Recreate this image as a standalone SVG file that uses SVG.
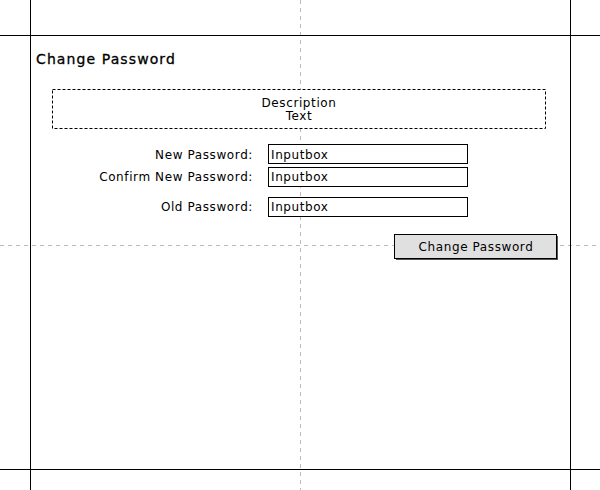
<svg xmlns="http://www.w3.org/2000/svg" width="600" height="490" viewBox="0 0 600 490">
<style>
text{font-family:"DejaVu Sans","Liberation Sans",sans-serif;font-size:12px;fill:#000;letter-spacing:0.6px}
.guide{stroke:#bbb;stroke-width:1;stroke-dasharray:4,4;fill:none}
.frame{stroke:#000;stroke-width:1;fill:none}
.input{fill:#fff;stroke:#000;stroke-width:1}
.lbl{text-anchor:end}
</style>
<rect width="600" height="490" fill="#fff"/>
<g id="guides">
<line class="guide" x1="300.5" y1="0" x2="300.5" y2="490"/>
<line class="guide" x1="0" y1="245.5" x2="600" y2="245.5"/>
</g>
<g id="frame">
<line class="frame" x1="30.5" y1="0" x2="30.5" y2="490"/>
<line class="frame" x1="570.5" y1="0" x2="570.5" y2="490"/>
<line class="frame" x1="0" y1="35.5" x2="600" y2="35.5"/>
<line class="frame" x1="0" y1="469.5" x2="600" y2="469.5"/>
</g>
<g id="title"><text x="36" y="64" style="font-size:14px;letter-spacing:1.1px;stroke:#000;stroke-width:0.3px">Change Password</text></g>
<g id="description">
<rect x="52.5" y="89.5" width="493" height="39" fill="#fff" stroke="#000" stroke-dasharray="3,2"/>
<text x="299" y="107" text-anchor="middle">Description</text>
<text x="299" y="120" text-anchor="middle">Text</text>
</g>
<g id="newpw">
<text class="lbl" x="253" y="159">New Password:</text>
<rect class="input" x="268.5" y="144.5" width="199" height="19"/>
<text x="271" y="159">Inputbox</text>
</g>
<g id="confirmpw">
<text class="lbl" x="253" y="181">Confirm New Password:</text>
<rect class="input" x="268.5" y="167.5" width="199" height="19"/>
<text x="271" y="181">Inputbox</text>
</g>
<g id="oldpw">
<text class="lbl" x="253" y="211">Old Password:</text>
<rect class="input" x="268.5" y="197.5" width="199" height="19"/>
<text x="271" y="211">Inputbox</text>
</g>
<g id="button">
<rect x="396" y="236" width="162" height="24" fill="#555"/>
<rect x="394.5" y="234.5" width="162" height="24" fill="#e0e0e0" stroke="#000"/>
<text x="476" y="251" text-anchor="middle">Change Password</text>
</g>
</svg>
